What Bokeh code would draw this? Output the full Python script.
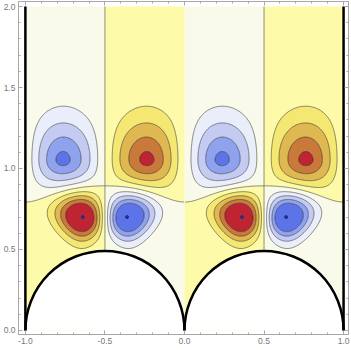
import numpy as np
from bokeh.plotting import figure
from bokeh.models import Range1d, FixedTicker, LinearAxis, NumeralTickFormatter
from bokeh.embed import file_html
from bokeh.resources import INLINE

# ---- field description (one period cell, x in [-1, 0]; repeats with period 1) ----
blob_cx = [-0.767, -0.233, -0.639, -0.361]
blob_cy = [1.05, 1.05, 0.705, 0.705]
blob_amp = [-4.5, 4.5, 6.1, -6.1]
blob_sx = [0.33, 0.33, 0.16, 0.16]
blob_sy_up = [0.35, 0.35, 0.16, 0.16]
blob_sy_dn = [0.25, 0.25, 0.14, 0.14]
blob_skew = [-0.08, -0.08, 0.25, 0.25]     # width change with height
# profile exp(-(c1 r + c2 r^2 + c3 r^3))
blob_c1 = [1.0, 1.0, 0.0, 0.0]
blob_c2 = [0.0, 0.0, 1.0, 1.0]
blob_c3 = [0.95, 0.95, 0.0, 0.0]
period = 1.0
# weak background: sign flips across y = bg_y
bg_amp = 0.25
bg_y = 0.79
bg_w = 0.05

contour_levels = [-50, -4, -3, -2, -1, 0, 1, 2, 3, 4, 50]
band_colors = ["#5c74e7", "#8fa2ee", "#c3cbf3", "#eaedfa", "#f9faea",
               "#fdfba9", "#f5e872", "#e0b852", "#c97a3a", "#bf2433"]
line_levels = [-4, -3, -2, -1, 0, 1, 2, 3, 4]

crit_x = [-0.639, -0.361, 0.361, 0.639]
crit_y = [0.70, 0.70, 0.70, 0.70]

wall_x = [-1.0, 1.0]
wall_y0 = [0.0, 0.0]
wall_y1 = [2.0, 2.0]
obst_x = [-0.5, 0.5]
obst_y = [0.0, 0.0]
obst_r = 0.5

x_major = [-1.0, -0.5, 0.0, 0.5, 1.0]
y_major = [0.0, 0.5, 1.0, 1.5, 2.0]
x_minor = [-0.9, -0.8, -0.7, -0.6, -0.4, -0.3, -0.2, -0.1, 0.1, 0.2, 0.3, 0.4, 0.6, 0.7, 0.8, 0.9]
y_minor = [0.1, 0.2, 0.3, 0.4, 0.6, 0.7, 0.8, 0.9, 1.1, 1.2, 1.3, 1.4, 1.6, 1.7, 1.8, 1.9]


def field(X, Y):
    Z = -bg_amp * np.sin(2 * np.pi * X / period) * np.tanh((Y - bg_y) / bg_w)
    for k in range(-3, 4):
        for cx, cy, a, sx, su, sd, sk, c1, c2, c3 in zip(blob_cx, blob_cy, blob_amp, blob_sx,
                                                         blob_sy_up, blob_sy_dn, blob_skew,
                                                         blob_c1, blob_c2, blob_c3):
            dy = np.where(Y > cy, (Y - cy) / su, (Y - cy) / sd)
            wid = sx * np.clip(1.0 + sk * dy, 0.4, 2.5)
            dx = (X - cx - k * period) / wid
            r = np.sqrt(dx * dx + dy * dy)
            Z += a * np.exp(-(c1 * r + c2 * r ** 2 + c3 * r ** 3))
    return Z


p = figure(width=351, height=350, x_range=Range1d(-1.0433, 1.031), y_range=Range1d(-0.025, 2.031),
           output_backend="svg", toolbar_location=None,
           min_border_left=13, min_border_right=3, min_border_top=1, min_border_bottom=16,
           x_axis_type=None, y_axis_type=None)
p.xgrid.visible = False
p.ygrid.visible = False
p.outline_line_color = "#a8a8a8"

# filled contours
gx = np.linspace(-1.0, 1.0, 500)
gy = np.linspace(0.0, 2.0, 500)
GX, GY = np.meshgrid(gx, gy)
GZ = field(GX, GY)
p.contour(GX, GY, GZ, contour_levels, fill_color=band_colors, line_color=None)

# contour lines (each period cell separately)
for x0, x1 in [(-0.996, -0.004), (0.004, 0.996)]:
    lx = np.linspace(x0, x1, 300)
    LX, LY = np.meshgrid(lx, gy)
    LZ = field(LX, LY)
    p.contour(LX, LY, LZ, line_levels, fill_color=None, line_color="#000000",
              line_alpha=0.45, line_width=1)

# obstacles
p.wedge(x=obst_x, y=obst_y, radius=obst_r, start_angle=0, end_angle=np.pi,
        fill_color="white", line_color=None)
p.arc(x=obst_x, y=obst_y, radius=obst_r, start_angle=0, end_angle=np.pi,
      line_color="black", line_width=2.5)
p.segment(x0=wall_x, y0=wall_y0, x1=wall_x, y1=wall_y1, line_color="black", line_width=2.5)

p.scatter(crit_x, crit_y, size=3, color="#1f2f8f")


def style_axis(ax, labels=True):
    ax.axis_line_color = "#a8a8a8"
    ax.major_tick_line_color = "#a8a8a8"
    ax.minor_tick_line_color = "#a8a8a8"
    ax.major_tick_in = 4
    ax.major_tick_out = 0
    ax.minor_tick_in = 2
    ax.minor_tick_out = 0
    ax.formatter = NumeralTickFormatter(format="0.0")
    if labels:
        ax.major_label_text_font = "Liberation Sans"
        ax.major_label_text_font_size = "8.5px"
        ax.major_label_text_color = "#777777"
        ax.major_label_standoff = 3
    else:
        ax.major_label_text_font_size = "0px"
        ax.major_label_standoff = 0


xt = FixedTicker(ticks=x_major, minor_ticks=x_minor)
yt = FixedTicker(ticks=y_major, minor_ticks=y_minor)
for loc, tk, lab in [("below", xt, True), ("left", yt, True), ("above", xt, False), ("right", yt, False)]:
    ax = LinearAxis(ticker=tk)
    style_axis(ax, lab)
    p.add_layout(ax, loc)

open("out.html", "w").write(file_html(p, INLINE))
